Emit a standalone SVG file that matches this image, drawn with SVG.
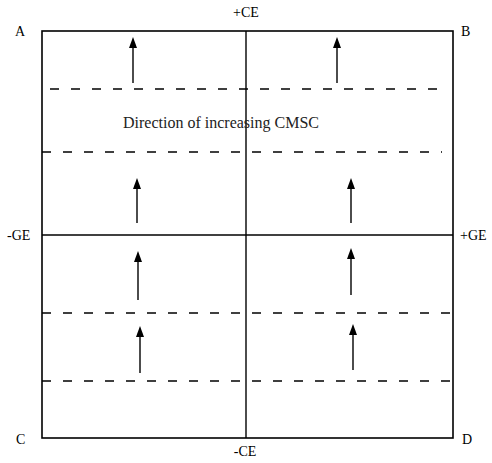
<svg xmlns="http://www.w3.org/2000/svg" width="492" height="463" viewBox="0 0 492 463">
<style>
.frame{fill:none;stroke:#000;stroke-width:1.6}
.axis{stroke:#000;stroke-width:1.4}
.dash{stroke:#000;stroke-width:1.4;stroke-dasharray:9 12}
.shaft{stroke:#000;stroke-width:1.4}
.head{fill:#000}
.lbl{font-family:"Liberation Serif","Times New Roman",serif;font-size:14px;fill:#000}
.title{font-family:"Liberation Serif","Times New Roman",serif;font-size:16px;fill:#222}
</style>
<g id="connectors">
<rect class="frame" x="42" y="31" width="411" height="407"/>
<line class="axis" x1="246" y1="31" x2="246" y2="438"/>
<line class="axis" x1="42" y1="235" x2="453" y2="235"/>
<line class="dash" x1="50" y1="89" x2="442" y2="89"/>
<line class="dash" x1="42" y1="152" x2="442" y2="152"/>
<line class="dash" x1="42" y1="313" x2="453" y2="313"/>
<line class="dash" x1="42" y1="381" x2="453" y2="381"/>
<line class="shaft" x1="133" y1="83" x2="133" y2="40"/>
<path class="head" d="M129,48 L133,37 L137,48 Z"/>
<line class="shaft" x1="337" y1="83" x2="337" y2="40"/>
<path class="head" d="M333,48 L337,37 L341,48 Z"/>
<line class="shaft" x1="137" y1="223" x2="137" y2="181"/>
<path class="head" d="M133,189 L137,178 L141,189 Z"/>
<line class="shaft" x1="351" y1="223" x2="351" y2="181"/>
<path class="head" d="M347,189 L351,178 L355,189 Z"/>
<line class="shaft" x1="138" y1="300" x2="138" y2="254"/>
<path class="head" d="M134,262 L138,251 L142,262 Z"/>
<line class="shaft" x1="351" y1="295" x2="351" y2="251"/>
<path class="head" d="M347,259 L351,248 L355,259 Z"/>
<line class="shaft" x1="140" y1="373" x2="140" y2="329"/>
<path class="head" d="M136,337 L140,326 L144,337 Z"/>
<line class="shaft" x1="353" y1="370" x2="353" y2="327"/>
<path class="head" d="M349,335 L353,324 L357,335 Z"/>
</g>
<g id="label-A"><text class="lbl" x="15" y="36">A</text></g>
<g id="label-B"><text class="lbl" x="461" y="36">B</text></g>
<g id="label-C"><text class="lbl" x="16" y="444">C</text></g>
<g id="label-D"><text class="lbl" x="462" y="444">D</text></g>
<g id="label-pCE"><text class="lbl" x="246" y="17" text-anchor="middle">+CE</text></g>
<g id="label-mCE"><text class="lbl" x="245" y="456" text-anchor="middle">-CE</text></g>
<g id="label-mGE"><text class="lbl" x="7" y="240">-GE</text></g>
<g id="label-pGE"><text class="lbl" x="460" y="240">+GE</text></g>
<g id="title"><text class="title" x="123" y="128">Direction of increasing CMSC</text></g>
</svg>
